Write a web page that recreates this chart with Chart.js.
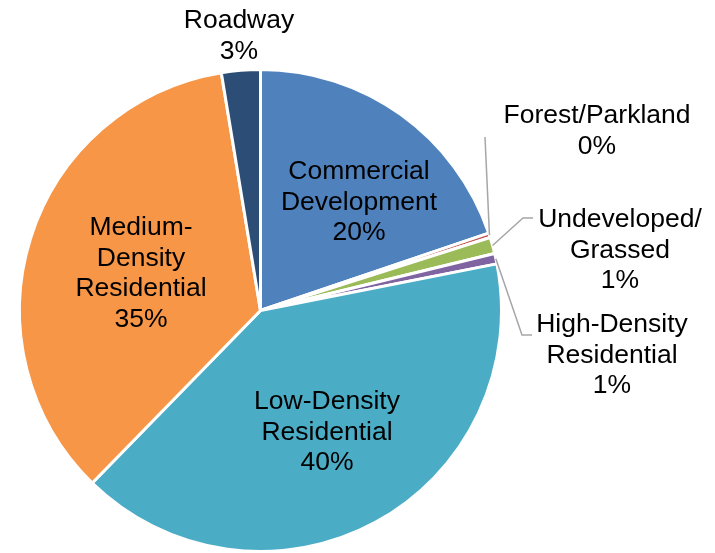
<!DOCTYPE html>
<html>
<head>
<meta charset="utf-8">
<script src="https://cdn.jsdelivr.net/npm/chart.js@4/dist/chart.umd.min.js"></script>
<style>
  html, body { margin: 0; padding: 0; background: #fff; }
  #wrap { width: 715px; height: 553px; position: relative; }
</style>
</head>
<body>
<div id="wrap"><canvas id="pieChart"></canvas></div>
<script>
// Land use shares (percent), clockwise from 12 o'clock
const categories = [
    'Commercial\nDevelopment',
    'Forest/Parkland',
    'Undeveloped/\nGrassed',
    'High-Density\nResidential',
    'Low-Density\nResidential',
    'Medium-\nDensity\nResidential',
    'Roadway'
];
const shares = [19.8, 0.3, 1.1, 0.7, 40.4, 35.1, 2.6];
const sliceColors = ['#4F81BD', '#C0504D', '#9BBB59', '#8064A2', '#4BACC6', '#F79646', '#2C4D75'];

// label placement: centre x and baseline of first line
const labelPos = [
    { x: 359, y: 179 },
    { x: 597, y: 123 },
    { x: 620, y: 227 },
    { x: 612, y: 332 },
    { x: 327, y: 409 },
    { x: 141, y: 235 },
    { x: 239, y: 28 }
];
// leader lines for the small outside slices (points after the arc edge)
const leaders = [
    null,
    [[485, 137]],
    [[523, 218], [533, 218]],
    [[522, 335], [532, 335]],
    null, null, null
];

const lineHeight = 30.5;

const pieLabels = {
    id: 'pieLabels',
    afterDatasetsDraw(chart) {
        const ctx = chart.ctx;
        const meta = chart.getDatasetMeta(0);
        const total = shares.reduce((a, b) => a + b, 0);
        ctx.save();

        // leader lines
        ctx.strokeStyle = '#A6A6A6';
        ctx.lineWidth = 1.5;
        leaders.forEach((pts, i) => {
            if (!pts) return;
            const arc = meta.data[i];
            const mid = (arc.startAngle + arc.endAngle) / 2;
            ctx.beginPath();
            ctx.moveTo(arc.x + Math.cos(mid) * arc.outerRadius, arc.y + Math.sin(mid) * arc.outerRadius);
            pts.forEach(p => ctx.lineTo(p[0], p[1]));
            ctx.stroke();
        });

        // text
        ctx.fillStyle = '#000';
        ctx.font = '26.5px "Liberation Sans", Arial, sans-serif';
        ctx.textAlign = 'center';
        ctx.textBaseline = 'alphabetic';
        categories.forEach((name, i) => {
            const pct = Math.round(shares[i] / total * 100) + '%';
            const lines = name.split('\n').concat([pct]);
            lines.forEach((t, k) => {
                ctx.fillText(t, labelPos[i].x, labelPos[i].y + k * lineHeight);
            });
        });
        ctx.restore();
    }
};

new Chart(document.getElementById('pieChart'), {
    type: 'pie',
    data: {
        labels: categories.map(c => c.replace(/\n/g, ' ')),
        datasets: [{
            data: shares,
            backgroundColor: sliceColors,
            borderColor: '#ffffff',
            borderWidth: 3
        }]
    },
    options: {
        responsive: true,
        maintainAspectRatio: false,
        animation: false,
        layout: { padding: { left: 18, right: 212, top: 68, bottom: 0 } },
        plugins: {
            legend: { display: false },
            tooltip: { enabled: false }
        }
    },
    plugins: [pieLabels]
});
</script>
</body>
</html>
